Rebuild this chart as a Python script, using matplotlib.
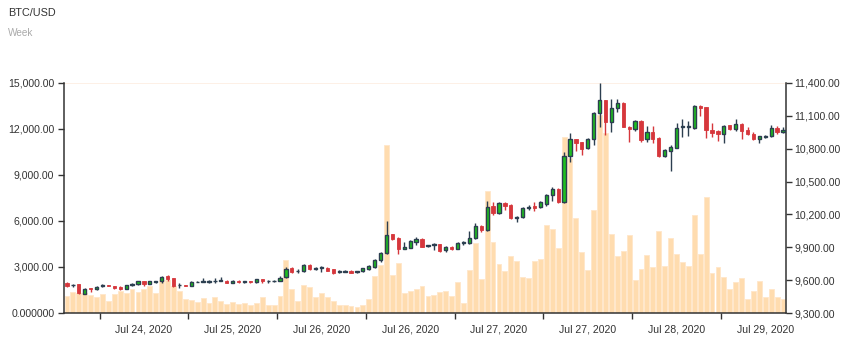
import matplotlib
matplotlib.use("Agg")
import matplotlib.pyplot as plt
import numpy as np

plt.rcParams['font.family'] = ['Liberation Sans', 'DejaVu Sans']

# Candle data (BTC/USD)
opens = [9574, 9553, 9565, 9476, 9525, 9516, 9546, 9556, 9544, 9535,
         9518, 9555, 9562, 9592, 9568, 9585, 9589, 9638, 9617, 9555,
         9558, 9548, 9582, 9582, 9584, 9588, 9592, 9595, 9575, 9590,
         9582, 9590, 9582, 9608, 9588, 9590, 9594, 9630, 9708, 9680,
         9682, 9735, 9700, 9710, 9714, 9698, 9670, 9678, 9686, 9670,
         9683, 9700, 9724, 9782, 9845, 10018, 9985, 9888, 9897, 9952,
         9976, 9910, 9918, 9930, 9873, 9905, 9888, 9935, 9939, 9982,
         10097, 10061, 10274, 10213, 10304, 10289, 10168, 10177, 10258, 10273,
         10265, 10297, 10377, 10435, 10311, 10730, 10886, 10861, 10803, 10891,
         11122, 11242, 11042, 11175, 11220, 11000, 10978, 11056, 10892, 10950,
         10900, 10737, 10782, 10810, 10995, 10995, 10990, 11193, 11178, 10974,
         10960, 10935, 11013, 10978, 11026, 10968, 10934, 10891, 10903, 10916,
         10989, 10950]
highs = [9580, 9565, 9567, 9525, 9527, 9543, 9567, 9560, 9550, 9543,
         9556, 9574, 9595, 9595, 9595, 9596, 9641, 9650, 9620, 9570,
         9560, 9588, 9588, 9622, 9600, 9622, 9625, 9597, 9600, 9600,
         9596, 9594, 9612, 9614, 9598, 9598, 9634, 9720, 9720, 9700,
         9744, 9750, 9718, 9733, 9720, 9700, 9690, 9690, 9690, 9686,
         9714, 9735, 9796, 9857, 10140, 10022, 9997, 9945, 9966, 9990,
         9985, 9925, 9942, 9932, 9910, 9912, 9945, 9953, 10049, 10119,
         10103, 10325, 10318, 10318, 10318, 10292, 10186, 10267, 10290, 10313,
         10325, 10390, 10448, 10438, 10767, 10943, 10892, 10865, 10900, 11138,
         11397, 11245, 11251, 11254, 11225, 11005, 11066, 11060, 11004, 11004,
         10906, 10797, 10830, 11037, 11071, 11050, 11199, 11199, 11184, 11035,
         10973, 11016, 11020, 11068, 11038, 10996, 10956, 10919, 10928, 11013,
         11007, 10998]
lows = [9540, 9535, 9478, 9470, 9494, 9512, 9535, 9545, 9520, 9512,
        9515, 9550, 9555, 9547, 9565, 9570, 9576, 9595, 9540, 9530,
        9545, 9546, 9580, 9580, 9572, 9578, 9590, 9572, 9570, 9572,
        9575, 9578, 9578, 9572, 9575, 9585, 9590, 9618, 9668, 9665,
        9676, 9693, 9693, 9678, 9680, 9660, 9662, 9675, 9662, 9668,
        9677, 9693, 9711, 9766, 9839, 9962, 9841, 9880, 9890, 9918,
        9900, 9905, 9878, 9860, 9855, 9876, 9880, 9923, 9933, 9979,
        10044, 10053, 10197, 10207, 10243, 10162, 10135, 10170, 10240, 10233,
        10255, 10275, 10325, 10305, 10305, 10679, 10776, 10745, 10797, 10834,
        10996, 10923, 10950, 11138, 10995, 10862, 10963, 10858, 10861, 10850,
        10722, 10722, 10594, 10804, 10910, 10913, 10980, 11102, 10898, 10904,
        10871, 10850, 10972, 10966, 10889, 10926, 10883, 10855, 10897, 10904,
        10935, 10941]
closes = [9546, 9560, 9480, 9519, 9516, 9540, 9556, 9548, 9530, 9518,
          9553, 9567, 9592, 9568, 9592, 9592, 9631, 9607, 9544, 9560,
          9548, 9583, 9586, 9590, 9590, 9596, 9598, 9575, 9595, 9582,
          9590, 9582, 9608, 9590, 9593, 9595, 9622, 9702, 9676, 9688,
          9738, 9700, 9712, 9716, 9688, 9668, 9680, 9685, 9668, 9680,
          9708, 9728, 9787, 9848, 10009, 9975, 9884, 9900, 9957, 9978,
          9906, 9920, 9932, 9870, 9903, 9888, 9936, 9948, 9988, 10091,
          10062, 10268, 10217, 10301, 10280, 10166, 10180, 10261, 10270, 10263,
          10311, 10375, 10432, 10311, 10731, 10886, 10855, 10800, 10891, 11126,
          11242, 11041, 11174, 11215, 11000, 10980, 11056, 10880, 10950, 10889,
          10735, 10785, 10818, 10992, 11004, 11006, 11190, 11170, 10971, 10946,
          10936, 11010, 10978, 11023, 10966, 10932, 10889, 10912, 10920, 10986,
          10950, 10970]
volumes = [1130, 1350, 1330, 1320, 1170, 1043, 1261, 783, 1270, 1435,
           1330, 1565, 1370, 1565, 1750, 1304, 2150, 2180, 1780, 1457,
           920, 848, 739, 978, 630, 1043, 765, 609, 717, 565,
           652, 522, 652, 1043, 500, 500, 1100, 3457, 1580, 783,
           1826, 1696, 1043, 1304, 1043, 783, 543, 522, 456, 391,
           522, 913, 2413, 3152, 10957, 2457, 3261, 1304, 1435, 1565,
           1761, 1130, 1196, 1370, 1457, 1130, 2022, 630, 2804, 4544,
           2217, 7957, 4631, 3196, 2717, 3717, 3391, 2348, 2304, 3413,
           3522, 5739, 5500, 4239, 11457, 10100, 6196, 3978, 2804, 6718,
           12935, 11761, 5152, 3717, 4044, 5087, 2130, 2848, 3783, 3000,
           5348, 3065, 4913, 3870, 3326, 3065, 6370, 3848, 7544, 2630,
           2978, 2326, 1565, 2022, 2283, 913, 1413, 2087, 1022, 1587,
           1022, 913]

date_labels = ["Jul 24, 2020", "Jul 25, 2020", "Jul 26, 2020", "Jul 26, 2020",
               "Jul 27, 2020", "Jul 27, 2020", "Jul 28, 2020", "Jul 29, 2020"]
# Day boundaries (tick marks) and the label position inside each interval
date_tick_pos = [5.5, 20.5, 35.5, 50.5, 65.5, 80.5, 95.5, 110.5]
date_label_pos = [p + 7.5 for p in date_tick_pos]

vol_ticks = [0, 3000, 6000, 9000, 12000, 15000]
vol_labels = ["0.000000", "3,000.00", "6,000.00", "9,000.00", "12,000.00", "15,000.00"]
price_ticks = [9300, 9600, 9900, 10200, 10500, 10800, 11100, 11400]
price_labels = ["9,300.00", "9,600.00", "9,900.00", "10,200.00", "10,500.00",
                "10,800.00", "11,100.00", "11,400.00"]

o = np.array(opens, float)
h = np.array(highs, float)
l = np.array(lows, float)
c = np.array(closes, float)
v = np.array(volumes, float)
x = np.arange(len(o))

fig = plt.figure(figsize=(8.56, 3.46), dpi=100)
ax = fig.add_axes([64 / 856, 1 - 313 / 346, (786 - 64) / 856, (313 - 83) / 346])
ax2 = ax.twinx()

axis_color = "#333333"
text_color = "#333333"

# Volume bars on the left axis
ax.bar(x, v, width=0.82, color="#ffdcaf", edgecolor="#ffe6c9", linewidth=0.6, zorder=2)
ax.axhline(15000, color="#fdeee2", linewidth=1.2, zorder=1)
ax.set_ylim(0, 15000)
ax.set_xlim(-0.5, len(o) - 0.5)
ax.set_yticks(vol_ticks)
ax.set_yticklabels(vol_labels)

# Candlesticks on the right axis
up = c >= o
green = "#1fbf1f"
dark = "#2c3e50"
red = "#d6373c"
wick_colors = [dark if u else red for u in up]
ax2.vlines(x, l, h, colors=wick_colors, linewidth=1.0, zorder=3)
body_bottom = np.minimum(o, c)
body_height = np.maximum(np.abs(c - o), 3)
ax2.bar(x[up], body_height[up], bottom=body_bottom[up], width=0.55,
        color=green, edgecolor=dark, linewidth=1.0, zorder=4)
ax2.bar(x[~up], body_height[~up], bottom=body_bottom[~up], width=0.55,
        color=red, edgecolor=red, linewidth=0.6, zorder=4)
ax2.set_ylim(9300, 11400)
ax2.set_yticks(price_ticks)
ax2.set_yticklabels(price_labels)

# Tick marks at day boundaries, labels centred in each day
ax.set_xticks(date_tick_pos)
ax.set_xticklabels([])
ax.set_xticks(date_label_pos, minor=True)
ax.set_xticklabels(date_labels, minor=True)
ax.tick_params(axis="x", which="minor", length=0, pad=8.5,
               labelsize=7.6, labelcolor=text_color)

for a in (ax, ax2):
    a.spines["top"].set_visible(False)
    a.tick_params(which="major", colors=axis_color, labelcolor=text_color,
                  labelsize=7.6, length=4, width=1)
ax2.spines["left"].set_visible(False)
ax2.spines["bottom"].set_visible(False)
ax.spines["right"].set_visible(False)
for s in ("left", "bottom"):
    ax.spines[s].set_color(axis_color)
    ax.spines[s].set_linewidth(1.1)
ax2.spines["right"].set_color(axis_color)
ax2.spines["right"].set_linewidth(1.1)
ax.tick_params(axis="y", pad=3)
ax2.tick_params(axis="y", pad=2)

fig.text(8 / 856, 1 - 13 / 346, "BTC/USD", fontsize=7.8, color="#333333", va="center")
fig.text(8 / 856, 1 - 33 / 346, "Week", fontsize=7.2, color="#aaaaaa", va="center")

fig.savefig("out.png", dpi=100, facecolor="white")
